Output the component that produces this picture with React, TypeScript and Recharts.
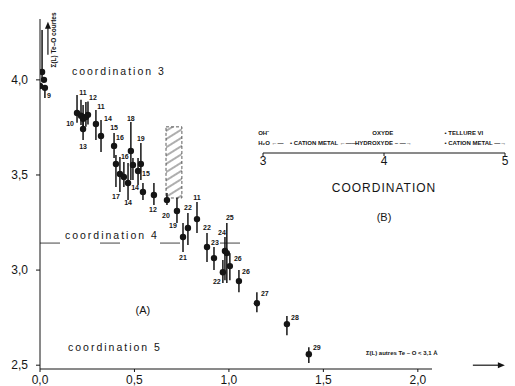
import {
  ErrorBar,
  Label,
  ReferenceArea,
  ReferenceDot,
  ReferenceLine,
  Scatter,
  ScatterChart,
  XAxis,
  YAxis
} from "recharts";

// compound numbers as printed next to each point
const ids = [
  "6", "7", "9", "", "10", "11", "", "", "12", "13", "11", "14", "15", "16", "17", "16", "14", "18", "",
  "19", "14", "15", "12", "20", "19", "11", "21", "22", "22", "23", "24", "25", "26", "22", "26", "27", "28", "29"
];
// x: sum of bond valences of the long Te–O contacts
const sumL = [
  0.0, 0.011, 0.026, 0.021, 0.196, 0.217, 0.228, 0.243, 0.254, 0.228, 0.296, 0.323, 0.392, 0.402, 0.423, 0.444,
  0.466, 0.481, 0.492, 0.534, 0.519, 0.545, 0.603, 0.672, 0.725, 0.831, 0.757, 0.783, 0.884, 0.921, 0.979, 0.989,
  1.005, 0.968, 1.053, 1.148, 1.307, 1.423
];
// y: sum of the short Te–O bonds
const sumS = [
  3.968, 4.042, 3.958, 4.0, 3.826, 3.811, 3.795, 3.805, 3.816, 3.742, 3.768, 3.705, 3.653, 3.558, 3.505, 3.489,
  3.458, 3.626, 3.553, 3.558, 3.521, 3.411, 3.395, 3.368, 3.311, 3.268, 3.174, 3.221, 3.121, 3.063, 3.1, 3.089,
  3.021, 2.989, 2.942, 2.826, 2.716, 2.558
];
const errLow = [
  0, 0.042, 0.053, 0, 0.052, 0.048, 0.048, 0.052, 0.05, 0.058, 0.084, 0.084, 0.064, 0.121, 0.094, 0.052, 0.09,
  0.152, 0.079, 0.084, 0.074, 0.043, 0.053, 0.026, 0.064, 0.073, 0.079, 0.089, 0.079, 0.063, 0.153, 0.157, 0.074,
  0.057, 0.058, 0.047, 0.058, 0.047
];
const errHigh = [
  0, 0.22, 0, 0, 0.095, 0.084, 0.073, 0.079, 0.07, 0.058, 0.074, 0.084, 0.068, 0.047, 0.09, 0.079, 0.105, 0.153,
  0.036, 0.11, 0.068, 0.047, 0.063, 0.037, 0.068, 0.09, 0.073, 0.079, 0.074, 0.058, 0.074, 0.158, 0.068, 0.064,
  0.058, 0.058, 0.042, 0.037
];
// where each number sits relative to its point (px)
const labelOffsets: [number, number][] = [
  [-8, 0], [-7, -8], [4, 8], [0, 0], [-7, 11], [2, -23], [0, 0], [0, 0], [5, -17], [0, 18], [5, -18], [7, -17],
  [0, -18], [4, -26], [-4, 22], [1, -21], [0, 20], [0, -33], [0, 0], [0, -25], [-3, 17], [3, -18], [-1, 15],
  [-1, 15], [-4, 15], [0, -22], [0, 21], [0, -21], [0, -20], [1, -16], [-3, -19], [3, -36], [8, -8], [-6, 9],
  [7, -10], [8, -10], [8, -7], [8, -7]
];
// compound 34: range only
const range34 = { x1: 0.667, x2: 0.751, y1: 3.379, y2: 3.753 };

const xTicks = [0, 0.5, 1, 1.5, 2];
const yTicks = [2.5, 3, 3.5, 4];
const coordinationTicks = [3, 4, 5];

const points = sumL.map((x, i) => ({ i, x, y: sumS[i], id: ids[i], err: [errLow[i], errHigh[i]] }));
const inset = coordinationTicks.map((c) => ({ c, v: 0 }));

const font = "'Liberation Sans', Arial, sans-serif";
const ink = "#151515";
const comma = (v: number) => v.toFixed(1).replace(".", ",");

function Point(props: any) {
  const { cx, cy, payload } = props;
  const [dx, dy] = labelOffsets[payload.i];
  return (
    <g>
      <circle cx={cx} cy={cy} r={3.2} fill={ink} />
      {payload.id && (
        <text x={cx + dx} y={cy + dy} fontSize={7} fontWeight="bold" fill={ink} textAnchor="middle" dominantBaseline="central" fontFamily={font}>
          {payload.id}
        </text>
      )}
    </g>
  );
}

function Hatch(props: any) {
  const { x, y, width, height } = props;
  return (
    <g>
      <defs>
        <pattern id="hatch34" width="7" height="7" patternUnits="userSpaceOnUse" patternTransform="rotate(-32)">
          <line x1="0" y1="3" x2="7" y2="3" stroke="#333" strokeWidth={0.8} />
        </pattern>
      </defs>
      <rect x={x} y={y} width={width} height={height} fill="url(#hatch34)" stroke="#333" strokeWidth={0.8} strokeDasharray="3 2" />
    </g>
  );
}

const note = (text: string, size: number, opts: any = {}) => (props: any) => (
  <text
    x={props.cx}
    y={props.cy}
    fontSize={size}
    fill={ink}
    fontFamily={font}
    dominantBaseline="central"
    textAnchor={opts.anchor ?? "start"}
    fontWeight={opts.bold ? "bold" : "normal"}
    letterSpacing={opts.spacing ?? 0}
    transform={opts.rotate ? `rotate(${opts.rotate} ${props.cx} ${props.cy})` : undefined}
  >
    {text}
  </text>
);

const upArrow = (props: any) => (
  <g>
    <line x1={props.cx} y1={props.cy + 3} x2={props.cx} y2={props.cy + 33} stroke={ink} strokeWidth={1.2} />
    <path d={`M${props.cx - 3},${props.cy + 7} L${props.cx},${props.cy} L${props.cx + 3},${props.cy + 7} Z`} fill={ink} />
  </g>
);

const rightArrow = (props: any) => (
  <g>
    <line x1={props.cx - 16} y1={props.cy} x2={props.cx + 12} y2={props.cy} stroke={ink} strokeWidth={1.2} />
    <path d={`M${props.cx + 9},${props.cy - 3} L${props.cx + 16},${props.cy} L${props.cx + 9},${props.cy + 3} Z`} fill={ink} />
  </g>
);

export default function App() {
  return (
    <div style={{ position: "absolute", left: 0, top: 0, width: 515, height: 386, background: "#fff" }}>
      <ScatterChart width={515} height={386} margin={{ top: 19, right: 83, bottom: 0, left: 0 }}>
        <XAxis
          type="number"
          dataKey="x"
          domain={[0, 2.075]}
          ticks={xTicks}
          tickFormatter={comma}
          height={17}
          tickSize={3}
          tickMargin={3}
          allowDataOverflow
          stroke={ink}
          tick={{ fontSize: 12, fill: ink, fontFamily: font }}
        />
        <YAxis
          type="number"
          dataKey="y"
          domain={[2.48, 4.32]}
          ticks={yTicks}
          tickFormatter={comma}
          width={40}
          tickSize={4}
          tickMargin={8}
          allowDataOverflow
          stroke={ink}
          tick={{ fontSize: 12, fill: ink, fontFamily: font }}
        />
        <ReferenceLine
          segment={[{ x: 0, y: 3.142 }, { x: 1.13, y: 3.142 }]}
          stroke="#444"
          strokeDasharray="20 40"
        />
        <ReferenceArea {...range34} shape={Hatch} ifOverflow="visible" />
        <ReferenceDot x={0.169} y={4.047} r={0} shape={note("coordination 3", 10.5, { spacing: 2 })} ifOverflow="visible" />
        <ReferenceDot x={0.132} y={3.184} r={0} shape={note("coordination 4", 10.5, { spacing: 2 })} ifOverflow="visible" />
        <ReferenceDot x={0.148} y={2.595} r={0} shape={note("coordination 5", 10.5, { spacing: 2 })} ifOverflow="visible" />
        <ReferenceDot x={0.545} y={2.789} r={0} shape={note("(A)", 11, { anchor: "middle" })} ifOverflow="visible" />
        <ReferenceDot x={0.069} y={4.21} r={0} shape={note("Σ(L) Te–O courtes", 6.5, { anchor: "middle", bold: true, rotate: -90 })} ifOverflow="visible" />
        <ReferenceDot x={1.915} y={2.563} r={0} shape={note("Σ(L) autres Te – O < 3,1 Å", 6, { anchor: "middle", bold: true })} ifOverflow="visible" />
        <ReferenceDot x={0.042} y={4.305} r={0} shape={upArrow} ifOverflow="visible" />
        <ReferenceDot x={2.376} y={2.5} r={0} shape={rightArrow} ifOverflow="visible" />
        <Scatter data={points} shape={Point} isAnimationActive={false}>
          <ErrorBar dataKey="err" direction="y" width={0} stroke={ink} strokeWidth={1.5} isAnimationActive={false} />
        </Scatter>
      </ScatterChart>

      <div style={{ position: "absolute", left: 250, top: 110 }}>
        <ScatterChart width={265} height={120} margin={{ top: 5, right: 10, bottom: 0, left: 13 }}>
          <XAxis
            type="number"
            dataKey="c"
            domain={[3, 5]}
            ticks={coordinationTicks}
            height={77}
            tickSize={3}
            tickMargin={0}
            stroke={ink}
            tick={{ fontSize: 12, fill: ink, fontFamily: font }}
          >
            <Label value="COORDINATION" position="insideTop" offset={30} fontSize={12} fill={ink} fontFamily={font} letterSpacing={1} />
          </XAxis>
          <YAxis type="number" dataKey="v" domain={[0, 1]} hide />
          <ReferenceDot x={2.96} y={0.526} r={0} shape={note("OH⁻", 6, { bold: true })} ifOverflow="visible" />
          <ReferenceDot x={2.96} y={0.263} r={0} shape={note("H₂O ←—", 6, { bold: true })} ifOverflow="visible" />
          <ReferenceDot x={3.223} y={0.263} r={0} shape={note("• CATION METAL ←——", 6, { bold: true })} ifOverflow="visible" />
          <ReferenceDot x={3.99} y={0.526} r={0} shape={note("OXYDE", 6, { bold: true, anchor: "middle" })} ifOverflow="visible" />
          <ReferenceDot x={3.76} y={0.263} r={0} shape={note("HYDROXYDE  –  —→", 6, { bold: true })} ifOverflow="visible" />
          <ReferenceDot x={4.5} y={0.526} r={0} shape={note("• TELLURE VI", 6, { bold: true })} ifOverflow="visible" />
          <ReferenceDot x={4.5} y={0.263} r={0} shape={note("• CATION METAL —→", 6, { bold: true })} ifOverflow="visible" />
          <ReferenceDot x={4} y={-1.68} r={0} shape={note("(B)", 11, { anchor: "middle" })} ifOverflow="visible" />
          <Scatter data={inset} shape={() => <g />} isAnimationActive={false} />
        </ScatterChart>
      </div>
    </div>
  );
}
